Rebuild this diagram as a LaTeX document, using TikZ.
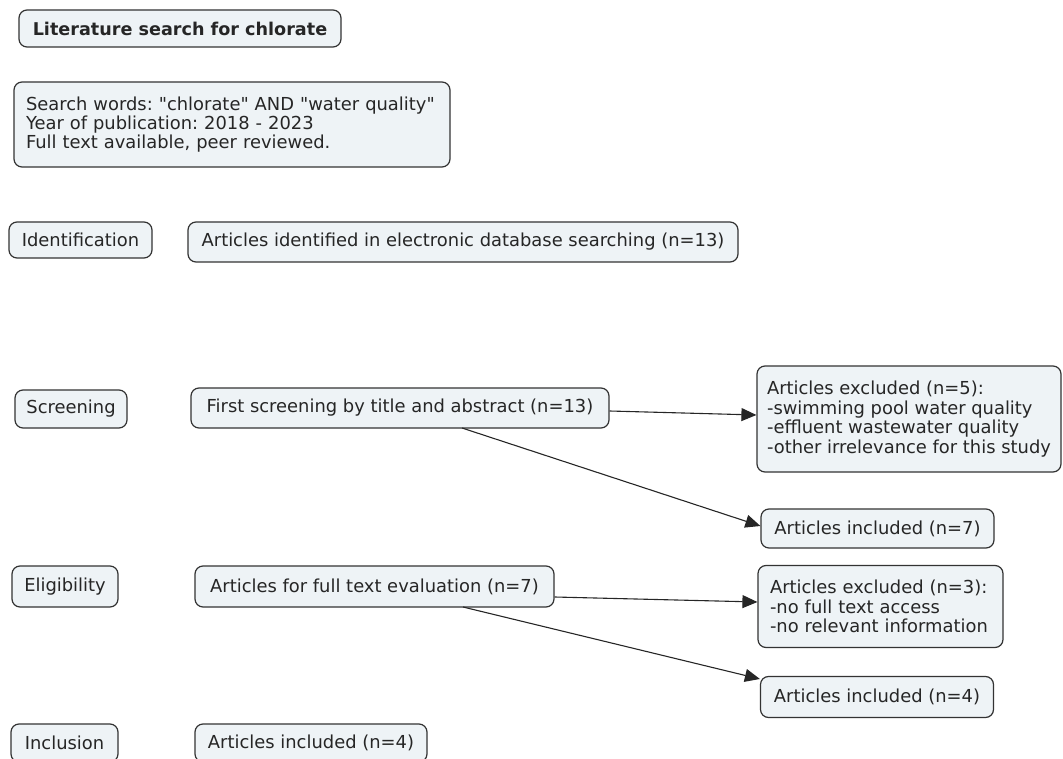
\documentclass[tikz,border=0pt]{standalone}
\usepackage{fontspec}
\setmainfont{DejaVu Sans}[Ligatures=TeXOff]
\usetikzlibrary{arrows.meta}
\definecolor{boxfill}{HTML}{EEF3F6}
\definecolor{boxline}{HTML}{333333}
\frenchspacing
\tikzset{
  box/.style={draw=boxline, fill=boxfill, rounded corners=8pt, line width=1.2pt,
    inner sep=0pt, font=\fontsize{17.9}{19.4}\selectfont\frenchspacing, text=black!85},
  mbox/.style={box, align=left, inner xsep=12pt},
  conn/.style={draw=black!85, line width=1.1pt, -{Triangle[length=15pt,width=13pt]}}
}
\begin{document}
\begin{tikzpicture}[x=1pt,y=-1pt]
\useasboundingbox (0,0) rectangle (1063,759);
\clip (0,0) rectangle (1063,759);
\node[box, font=\fontsize{17.6}{19.4}\selectfont\bfseries, minimum width=322pt, minimum height=37pt] (title) at (180,28.5) {Literature search for chlorate};
\node[mbox, text width=412pt, minimum height=85pt] (search) at (232,124.5) {Search words: "chlorate" AND "water quality"\\Year of publication: 2018 - 2023\\Full text available, peer reviewed.};
\node[box, minimum width=143pt, minimum height=36pt] (ident) at (80.5,240) {Identification};
\node[box, minimum width=550pt, minimum height=40pt] (artid) at (463,242) {Articles identified in electronic database searching (n=13)};
\node[box, minimum width=112pt, minimum height=38pt] (screen) at (71,409) {Screening};
\node[box, minimum width=418pt, minimum height=40pt] (first) at (400,408) {First screening by title and abstract (n=13)};
\node[box, align=left, minimum width=304pt, minimum height=106pt] (exc5) at (909,419) {Articles excluded (n=5):\\-swimming pool water quality\\-effluent wastewater quality\\-other irrelevance for this study};
\node[box, minimum width=233pt, minimum height=39pt] (inc7) at (877.5,528.5) {Articles included (n=7)};
\node[box, minimum width=106pt, minimum height=41pt] (elig) at (65,586.5) {Eligibility};
\node[box, minimum width=359pt, minimum height=41pt] (full) at (374.5,586.5) {Articles for full text evaluation (n=7)};
\node[mbox, text width=221pt, minimum height=82pt] (exc3) at (880.5,606.5) {Articles excluded (n=3):\\-no full text access\\-no relevant information};
\node[box, minimum width=233pt, minimum height=41pt] (inc4) at (877,697) {Articles included (n=4)};
\node[box, minimum width=107pt, minimum height=38pt] (incl) at (64.5,743) {Inclusion};
\node[box, minimum width=232pt, minimum height=38pt] (final) at (311,743) {Articles included (n=4)};
\coordinate (a1s) at (first.east |- 0,411);
\coordinate (a1e) at (exc5.west |- 0,415);
\draw[conn] (a1s) -- (a1e);
\coordinate (a2s) at (462,428);
\coordinate (a2e) at (inc7.west |- 0,526);
\draw[conn] (a2s) -- (a2e);
\coordinate (a3s) at (full.east |- 0,597);
\coordinate (a3e) at (exc3.west |- 0,602);
\draw[conn] (a3s) -- (a3e);
\coordinate (a4s) at (463,607);
\coordinate (a4e) at (inc4.west |- 0,679);
\draw[conn] (a4s) -- (a4e);
\end{tikzpicture}
\end{document}
